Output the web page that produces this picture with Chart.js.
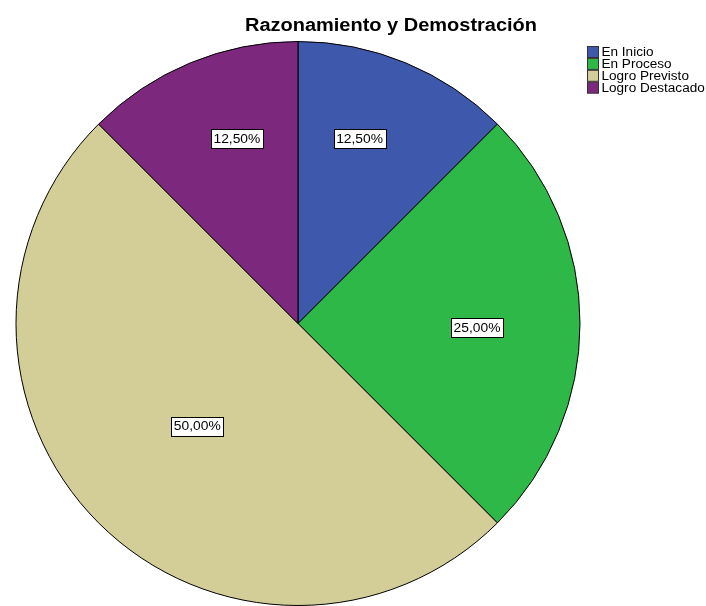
<!DOCTYPE html>
<html>
<head>
<meta charset="utf-8">
<script src="https://cdn.jsdelivr.net/npm/chart.js@4.4.1/dist/chart.umd.min.js"></script>
<style>
html,body{margin:0;padding:0;background:#fff;}
#wrap{width:706px;height:606px;position:relative;}
</style>
</head>
<body>
<div id="wrap"><canvas id="c" width="706" height="606"></canvas></div>
<script>
const chartTitle = "Razonamiento y Demostración";
const categories = ["En Inicio", "En Proceso", "Logro Previsto", "Logro Destacado"];
const percentages = [12.5, 25.0, 50.0, 12.5];
const sliceColors = ["#3E58AC", "#2EB848", "#D3CE97", "#7C287D"];
const labelRadiusFrac = [0.69, 0.635, 0.51, 0.69];
const labelAngleFrac = [0.41, 0.514, 0.497, 0.593];

const FONT = "Arial, 'Liberation Sans', sans-serif";
const SX = 1.15;

function fmt(v){ return v.toFixed(2).replace('.', ',') + '%'; }

function stretchedText(ctx, txt, x, y, sx, align){
  const w = ctx.measureText(txt).width * sx;
  let left = x;
  if (align === 'center') left = x - w / 2;
  ctx.save();
  ctx.translate(left, y);
  ctx.scale(sx, 1);
  ctx.textAlign = 'left';
  ctx.fillText(txt, 0, 0);
  ctx.restore();
  return w;
}

const decorPlugin = {
  id: 'decor',
  afterDatasetsDraw(chart){
    const ctx = chart.ctx;
    const meta = chart.getDatasetMeta(0);
    ctx.save();
    ctx.font = "12px " + FONT;
    ctx.textBaseline = 'middle';
    meta.data.forEach((arc, i) => {
      const p = arc.getProps(['x','y','startAngle','endAngle','outerRadius'], true);
      const ang = p.startAngle + (p.endAngle - p.startAngle) * labelAngleFrac[i];
      const r = p.outerRadius * labelRadiusFrac[i];
      const x = p.x + Math.cos(ang) * r;
      const y = p.y + Math.sin(ang) * r;
      const txt = fmt(percentages[i]);
      const w = Math.round(ctx.measureText(txt).width * SX + 5);
      const h = 19;
      const bx = Math.round(x - w/2) + 0.5, by = Math.round(y - h/2) + 0.5;
      ctx.fillStyle = '#fff';
      ctx.fillRect(bx, by, w, h);
      ctx.strokeStyle = '#000';
      ctx.lineWidth = 1;
      ctx.strokeRect(bx, by, w, h);
      ctx.fillStyle = '#000';
      stretchedText(ctx, txt, x, y + 1, SX, 'center');
    });
    // title
    ctx.font = "bold 18px " + FONT;
    ctx.textBaseline = 'alphabetic';
    ctx.fillStyle = '#000';
    stretchedText(ctx, chartTitle, 391, 31, 1.11, 'center');
    // legend
    ctx.font = "12px " + FONT;
    ctx.textBaseline = 'middle';
    categories.forEach((c, i) => {
      const cy = 52 + i * 11.9;
      ctx.fillStyle = sliceColors[i];
      ctx.fillRect(587.5, cy - 5.5, 11, 11);
      ctx.strokeStyle = '#333';
      ctx.strokeRect(587.5, cy - 5.5, 11, 11);
      ctx.fillStyle = '#000';
      stretchedText(ctx, c, 601.5, cy + 0.5, 1.13, 'left');
    });
    ctx.restore();
  }
};

new Chart(document.getElementById('c'), {
  type: 'pie',
  data: {
    labels: categories,
    datasets: [{
      data: percentages,
      backgroundColor: sliceColors,
      borderColor: '#000',
      borderWidth: 1
    }]
  },
  options: {
    responsive: false,
    animation: false,
    layout: { padding: { left: 14, right: 124, top: 41, bottom: 0 } },
    plugins: {
      legend: { display: false },
      title: { display: false },
      tooltip: { enabled: false }
    }
  },
  plugins: [decorPlugin]
});
</script>
</body>
</html>
